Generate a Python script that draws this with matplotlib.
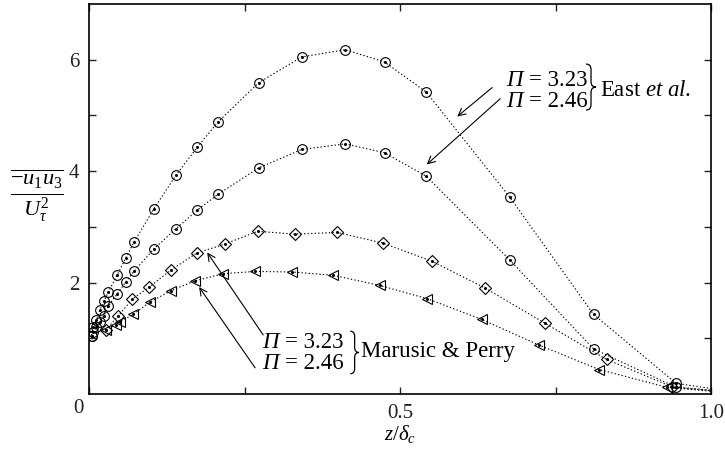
import numpy as np
import matplotlib
matplotlib.use("Agg")
import matplotlib.pyplot as plt
from matplotlib.path import Path
from matplotlib.patches import PathPatch
from matplotlib.ticker import FixedLocator, FixedFormatter

plt.rcParams["font.family"] = ["Liberation Serif", "DejaVu Serif"]
plt.rcParams["mathtext.fontset"] = "custom"
plt.rcParams["mathtext.rm"] = "Liberation Serif"
plt.rcParams["mathtext.it"] = "Liberation Serif:italic"
plt.rcParams["mathtext.bf"] = "Liberation Serif:bold"

# East et al., Pi = 3.23 (upper circles); last point is the line end, no marker
xEast = [0.004, 0.007, 0.012, 0.017, 0.024, 0.031, 0.0455, 0.059, 0.072, 0.104,
         0.140, 0.174, 0.208, 0.273, 0.342, 0.412, 0.475, 0.542, 0.676, 0.811,
         0.944, 1.0]
yEast323 = [1.05, 1.20, 1.33, 1.50, 1.67, 1.83, 2.14, 2.44, 2.72, 3.32,
            3.93, 4.43, 4.89, 5.59, 6.05, 6.18, 5.96, 5.42, 3.54, 1.43,
            0.19, 0.10]
# East et al., Pi = 2.46 (lower circles)
yEast246 = [1.05, 1.12, 1.20, 1.30, 1.40, 1.58, 1.80, 2.01, 2.20, 2.60,
            2.97, 3.30, 3.59, 4.06, 4.39, 4.49, 4.33, 3.91, 2.41, 0.81,
            0.12, 0.06]

# Marusic & Perry, Pi = 3.23 (diamonds)
xMP323 = [0.027, 0.047, 0.069, 0.097, 0.131, 0.173, 0.218, 0.271, 0.331, 0.399,
          0.472, 0.552, 0.637, 0.733, 0.832, 0.937, 1.0]
yMP323 = [1.15, 1.40, 1.70, 1.92, 2.22, 2.53, 2.69, 2.92, 2.87, 2.90,
          2.71, 2.38, 1.90, 1.27, 0.62, 0.13, 0.07]

# Marusic & Perry, Pi = 2.46 (triangles)
xMP246 = [0.027, 0.043, 0.050, 0.071, 0.098, 0.131, 0.170, 0.216, 0.267, 0.327,
          0.393, 0.467, 0.544, 0.631, 0.723, 0.820, 0.929, 1.0]
yMP246 = [1.15, 1.24, 1.30, 1.43, 1.65, 1.85, 2.03, 2.16, 2.20, 2.19,
          2.13, 1.95, 1.71, 1.34, 0.88, 0.44, 0.12, 0.05]


def drawBrace(ax, x0, x1, yt, yb):
    # thin right-pointing curly brace, in axes fraction coordinates
    xm = (x0 + x1) / 2
    ym = (yt + yb) / 2
    d = (yt - yb) * 0.12
    verts = [(x0, yt), (xm, yt), (xm, yt - d),
             (xm, ym + d),
             (xm, ym), (x1, ym),
             (xm, ym), (xm, ym - d),
             (xm, yb + d),
             (xm, yb), (x0, yb)]
    codes = [Path.MOVETO, Path.CURVE3, Path.CURVE3,
             Path.LINETO,
             Path.CURVE3, Path.CURVE3,
             Path.CURVE3, Path.CURVE3,
             Path.LINETO,
             Path.CURVE3, Path.CURVE3]
    ax.add_patch(PathPatch(Path(verts, codes), transform=ax.transAxes,
                           facecolor="none", edgecolor="black", linewidth=0.9,
                           clip_on=False))


def piLabel(ax, x, y, value):
    ax.text(x, y, "Π", transform=ax.transAxes, ha="left", va="center",
            fontsize=16.5, fontstyle="italic")
    ax.text(x + 0.036, y, "= " + value, transform=ax.transAxes, ha="left",
            va="center", fontsize=16.5)


fig = plt.figure(figsize=(7.25, 4.5), dpi=100)
ax = fig.add_axes([0.1228, 0.1244, 0.858, 0.8667])

lineStyle = dict(color="black", linewidth=0.8, linestyle=(0, (1.2, 2.0)),
                 markerfacecolor="none", markeredgecolor="black",
                 markeredgewidth=0.8, markevery=slice(0, -1))

ax.plot(xEast, yEast323, marker="o", markersize=7, **lineStyle)
ax.plot(xEast, yEast246, marker="o", markersize=7, **lineStyle)
ax.plot(xMP323, yMP323, marker="D", markersize=6.3, **lineStyle)
ax.plot(xMP246, yMP246, marker="<", markersize=7.5, **lineStyle)

# small centre dots inside the markers
for xx, yy in [(xEast, yEast323), (xEast, yEast246), (xMP323, yMP323), (xMP246, yMP246)]:
    ax.plot(xx[:-1], yy[:-1], linestyle="none", marker="o", markersize=1.2,
            color="black")

ax.set_xlim(0, 1.0)
ax.set_ylim(0, 7.0)

ax.xaxis.set_major_locator(FixedLocator([0, 0.5, 1.0]))
ax.xaxis.set_major_formatter(FixedFormatter(["", "0.5", "1.0"]))
ax.xaxis.set_minor_locator(FixedLocator([0.25, 0.75]))
ax.yaxis.set_major_locator(FixedLocator([2, 4, 6]))
ax.yaxis.set_major_formatter(FixedFormatter(["2", "4", "6"]))
ax.yaxis.set_minor_locator(FixedLocator([1, 3, 5]))
ax.tick_params(which="both", direction="in", top=True, right=True,
               length=5, width=1.0, labelsize=15, colors="#222222")
ax.tick_params(axis="x", pad=7)
ax.tick_params(axis="y", pad=7)
for sp in ax.spines.values():
    sp.set_linewidth(1.2)

ax.text(-0.017, -0.037, "0", transform=ax.transAxes, ha="center", va="center",
        fontsize=15, color="#222222")

ax.set_xlabel(r"$\mathit{z}/\delta_c$", fontsize=15, labelpad=0)
ax.text(-0.084, 0.508, r"$\frac{\overline{-u_1u_3}}{U_\tau^2}$",
        transform=ax.transAxes, ha="center", va="center", fontsize=23)

arrowProps = dict(arrowstyle="->", color="black", linewidth=0.8,
                  mutation_scale=13, shrinkA=0, shrinkB=0)

# East et al. annotation
ax.annotate("", xy=(0.592, 4.98), xytext=(0.648, 5.50), arrowprops=arrowProps)
ax.annotate("", xy=(0.543, 4.12), xytext=(0.661, 5.30), arrowprops=arrowProps)
piLabel(ax, 0.671, 0.805, "3.23")
piLabel(ax, 0.671, 0.749, "2.46")
drawBrace(ax, 0.799, 0.815, 0.846, 0.728)
ax.text(0.821, 0.779, r"East $\mathit{et\ al}$.", transform=ax.transAxes,
        ha="left", va="center", fontsize=16.5)

# Marusic & Perry annotation
ax.annotate("", xy=(0.190, 2.54), xytext=(0.280, 1.06), arrowprops=arrowProps)
ax.annotate("", xy=(0.177, 1.92), xytext=(0.267, 0.47), arrowprops=arrowProps)
piLabel(ax, 0.279, 0.133, "3.23")
piLabel(ax, 0.279, 0.077, "2.46")
drawBrace(ax, 0.420, 0.434, 0.161, 0.052)
ax.text(0.438, 0.108, "Marusic & Perry", transform=ax.transAxes,
        ha="left", va="center", fontsize=16.5)

fig.savefig("out.png", dpi=100)
